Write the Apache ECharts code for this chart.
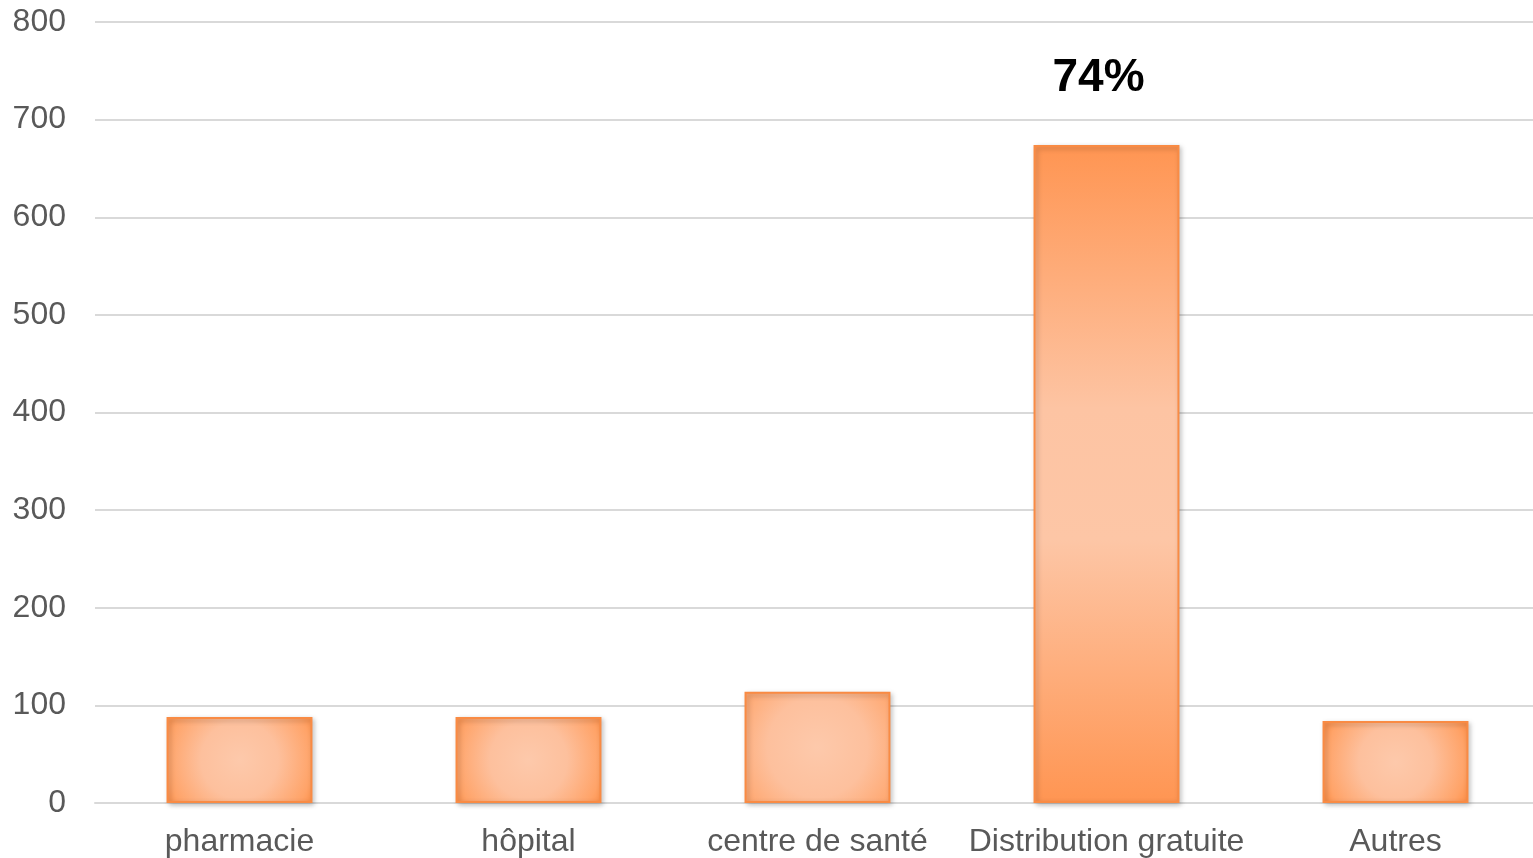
<!DOCTYPE html>
<html>
<head>
<meta charset="utf-8">
<script src="https://cdn.jsdelivr.net/npm/echarts@6/dist/echarts.min.js"></script>
<style>
html, body { margin: 0; padding: 0; background: #fff; overflow: hidden; }
#chart { width: 1540px; height: 858px; }
</style>
</head>
<body>
<div id="chart"></div>
<script>
var categories = ['pharmacie', 'hôpital', 'centre de santé', 'Distribution gratuite', 'Autres'];
var values = [88, 88, 114, 674, 84];
var barLabels = ['', '', '', '74%', ''];

var radialFill = {
    type: 'radial', x: 0.5, y: 0.5, r: 1,
    colorStops: [
        { offset: 0, color: '#fdc9ab' },
        { offset: 0.45, color: '#fdc09d' },
        { offset: 0.85, color: '#ffa368' },
        { offset: 1, color: '#ff9048' }
    ]
};
var tallFill = {
    type: 'linear', x: 0, y: 0, x2: 0, y2: 1,
    colorStops: [
        { offset: 0, color: '#ff9552' },
        { offset: 0.4, color: '#fdc4a3' },
        { offset: 0.6, color: '#fdc6a6' },
        { offset: 1, color: '#ff9552' }
    ]
};

var seriesData = [];
for (var i = 0; i < values.length; i++) {
    var item = {
        value: values[i],
        itemStyle: { color: values[i] > 300 ? tallFill : radialFill }
    };
    if (barLabels[i]) {
        item.label = {
            show: true,
            position: 'top',
            distance: 44,
            formatter: barLabels[i],
            fontFamily: 'Liberation Sans, Arial, sans-serif',
            fontWeight: 'bold',
            fontSize: 46,
            color: '#000',
            offset: [-8, 0]
        };
    }
    seriesData.push(item);
}

var chart = echarts.init(document.getElementById('chart'));
chart.setOption({
    animation: false,
    grid: { left: 95, right: 0, top: 22, bottom: 55, containLabel: false },
    xAxis: {
        type: 'category',
        data: categories,
        axisLine: { lineStyle: { color: '#d9d9d9', width: 2 } },
        axisTick: { show: false },
        axisLabel: {
            interval: 0,
            margin: 23,
            color: '#595959',
            fontSize: 32,
            fontFamily: 'Liberation Sans, Arial, sans-serif'
        }
    },
    yAxis: {
        type: 'value',
        min: 0,
        max: 800,
        interval: 100,
        axisLine: { show: false },
        axisTick: { show: false },
        splitLine: { lineStyle: { color: '#d9d9d9', width: 2 } },
        axisLabel: {
            margin: 29,
            color: '#595959',
            fontSize: 32,
            fontFamily: 'Liberation Sans, Arial, sans-serif'
        }
    },
    series: [{
        type: 'bar',
        barWidth: '50.5%',
        data: seriesData,
        itemStyle: {
            borderColor: '#f98b44',
            borderWidth: 2,
            shadowColor: 'rgba(0,0,0,0.25)',
            shadowBlur: 5,
            shadowOffsetX: 2,
            shadowOffsetY: 2
        }
    }]
});
</script>
</body>
</html>
